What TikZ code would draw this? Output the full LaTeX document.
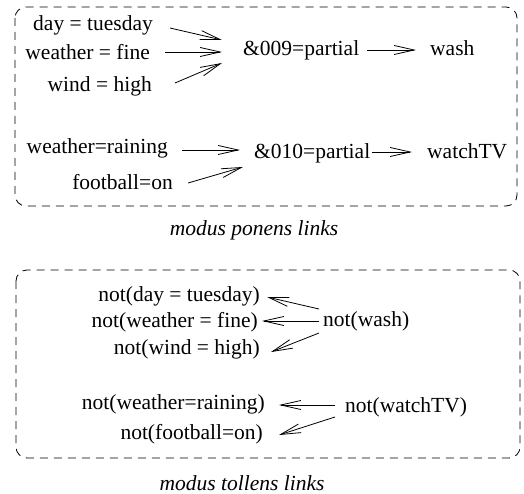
\documentclass[tikz,border=0pt]{standalone}
\usepackage{fontspec}
\setmainfont{Liberation Serif}
\usetikzlibrary{arrows.meta}
\begin{document}
\begin{tikzpicture}[x=1pt,y=-1pt,
  lbl/.style={inner sep=0pt,font=\fontsize{21.5}{24}\selectfont},
  captext/.style={inner sep=0pt,font=\fontsize{21.5}{24}\selectfont\itshape},
  frame/.style={draw,line width=0.8pt,dash pattern=on 8pt off 6pt,rounded corners=11pt},
  link/.style={line width=0.8pt,-{Straight Barb[length=20pt,width=9pt,line width=0.8pt]}}]
\useasboundingbox (0,0) rectangle (524,494);

% modus ponens frame
\draw[frame] (15,7) rectangle (517,206);
\node[lbl,anchor=mid east] (day)   at (153,28)  {day = tuesday};
\node[lbl,anchor=mid east] (wfine) at (150,57)  {weather = fine};
\node[lbl,anchor=mid east] (wind)  at (152,89)  {wind = high};
\node[lbl,anchor=mid east] (wrain) at (168,151) {weather=raining};
\node[lbl,anchor=mid east] (foot)  at (173,187) {football=on};
\node[lbl,anchor=mid west] (and9)  at (243,53)  {\&009=partial};
\node[lbl,anchor=mid west] (wash)  at (430,53)  {wash};
\node[lbl,anchor=mid west] (and10) at (254,156) {\&010=partial};
\node[lbl,anchor=mid west] (watch) at (427,156) {watchTV};
\node[captext] (ponens) at (254,230) {modus ponens links};

\draw[link] ([shift={(17,0)}]day.mid east)    -- ([shift={(-21,-13)}]and9.mid west);
\draw[link] ([shift={(15,-5)}]wfine.mid east) -- ([shift={(-21,-1)}]and9.mid west);
\draw[link] ([shift={(23,-6)}]wind.mid east)  -- ([shift={(-21,10)}]and9.mid west);
\draw[link] ([shift={(8,-3)}]and9.mid east)   -- ([shift={(-14,-3)}]wash.mid west);
\draw[link] ([shift={(14,-1)}]wrain.mid east) -- ([shift={(-14,-6)}]and10.mid west);
\draw[link] ([shift={(15,-4)}]foot.mid east)  -- ([shift={(-11,11)}]and10.mid west);
\draw[link] ([shift={(2,-4)}]and10.mid east)  -- ([shift={(-15,-4)}]watch.mid west);

% modus tollens frame
\draw[frame] (16,270) rectangle (520,458);
\node[lbl,anchor=mid east] (nday)   at (260,299) {not(day = tuesday)};
\node[lbl,anchor=mid east] (nfine)  at (258,325) {not(weather = fine)};
\node[lbl,anchor=mid east] (nwind)  at (260,352) {not(wind = high)};
\node[lbl,anchor=mid east] (nrain)  at (265,407) {not(weather=raining)};
\node[lbl,anchor=mid east] (nfoot)  at (263,437) {not(football=on)};
\node[lbl,anchor=mid west] (nwash)  at (323,324) {not(wash)};
\node[lbl,anchor=mid west] (nwatch) at (345,410) {not(watchTV)};
\node[captext] (tollens) at (242,483) {modus tollens links};

\draw[link] ([shift={(-4,-15)}]nwash.mid west) -- ([shift={(7,-2)}]nday.mid east);
\draw[link] ([shift={(-4,-3)}]nwash.mid west)  -- ([shift={(4,-4)}]nfine.mid east);
\draw[link] ([shift={(-4,9)}]nwash.mid west)   -- ([shift={(11,0)}]nwind.mid east);
\draw[link] ([shift={(-10,-5)}]nwatch.mid west) -- ([shift={(14,-2)}]nrain.mid east);
\draw[link] ([shift={(-10,7)}]nwatch.mid west)  -- ([shift={(16,-2)}]nfoot.mid east);
\end{tikzpicture}
\end{document}
